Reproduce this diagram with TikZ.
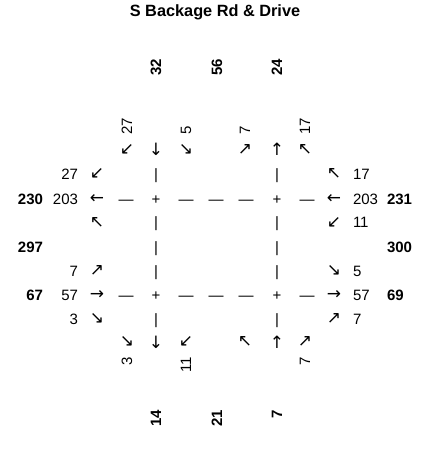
\documentclass[tikz,border=0pt]{standalone}
\usepackage{fontspec}
\setmainfont{Liberation Sans}
\newfontfamily\arrowfont{DejaVu Sans}
\begin{document}
\begin{tikzpicture}[x=1pt,y=-1pt,
  every node/.style={inner sep=0pt,outer sep=0pt,font=\fontsize{15}{15}\selectfont},
  ttl/.style={font=\fontsize{16.3}{16.3}\selectfont\bfseries},
  bnum/.style={font=\fontsize{15}{15}\selectfont\bfseries},
  arr/.style={font=\fontsize{17}{17}\selectfont\arrowfont},
  txt/.style={anchor=base}]
\useasboundingbox (0,0) rectangle (424,449);
\node[ttl] (title) at (215,12) {S Backage Rd \& Drive};
% top totals
\node[bnum,rotate=90,anchor=west] (tT1) at (156,76) {32};
\node[bnum,rotate=90,anchor=west] (tT2) at (217,76) {56};
\node[bnum,rotate=90,anchor=west] (tT3) at (277,76) {24};
% top movement counts
\node[rotate=90,anchor=west] (tc1) at (127,134.5) {27};
\node[rotate=90,anchor=west] (tc2) at (186,134.5) {5};
\node[rotate=90,anchor=west] (tc3) at (245,134.5) {7};
\node[rotate=90,anchor=west] (tc4) at (305,134.5) {17};
% top arrows
\node[arr] (ta1) at (127,150) {↙};
\node[arr] (ta2) at (156,149) {↓};
\node[arr] (ta3) at (186,150) {↘};
\node[arr] (ta4) at (245,150) {↗};
\node[arr] (ta5) at (277,149) {↑};
\node[arr] (ta6) at (305,150) {↖};
% vertical bars
\foreach \yy [count=\i] in {179.4,227.9,252.4,276.4,324.4}{
  \node[txt] (lb\i) at (156,\yy) {|};
  \node[txt] (rb\i) at (277,\yy) {|};
}
% road rows
\foreach \yy/\r in {204.4/a,300.4/b}{
  \node[txt] (d1\r) at (126,\yy) {—};
  \node[txt] (p1\r) at (156,\yy) {+};
  \node[txt] (d2\r) at (186,\yy) {—};
  \node[txt] (d3\r) at (216,\yy) {—};
  \node[txt] (d4\r) at (246,\yy) {—};
  \node[txt] (p2\r) at (277,\yy) {+};
  \node[txt] (d5\r) at (307,\yy) {—};
}
% left arrows
\node[arr] (la1) at (97,174) {↙};
\node[arr] (la2) at (97,199) {←};
\node[arr] (la3) at (97,222.5) {↖};
\node[arr] (la4) at (97,271) {↗};
\node[arr] (la5) at (97,295) {→};
\node[arr] (la6) at (97,319) {↘};
% left counts
\node[anchor=base east] (lc1) at (78,179.4) {27};
\node[anchor=base east] (lc2) at (78,204.4) {203};
\node[anchor=base east] (lc3) at (78,276.4) {7};
\node[anchor=base east] (lc4) at (78,300.4) {57};
\node[anchor=base east] (lc5) at (78,324.4) {3};
\node[bnum,anchor=base east] (lT1) at (43,204.4) {230};
\node[bnum,anchor=base east] (lT2) at (43,252.4) {297};
\node[bnum,anchor=base east] (lT3) at (43,300.4) {67};
% right arrows
\node[arr] (ra1) at (334,174) {↖};
\node[arr] (ra2) at (334,199) {←};
\node[arr] (ra3) at (334,222.5) {↙};
\node[arr] (ra4) at (334,271) {↘};
\node[arr] (ra5) at (334,295) {→};
\node[arr] (ra6) at (334,319) {↗};
% right counts
\node[anchor=base west] (rc1) at (353,179.4) {17};
\node[anchor=base west] (rc2) at (353,204.4) {203};
\node[anchor=base west] (rc3) at (353,227.9) {11};
\node[anchor=base west] (rc4) at (353,276.4) {5};
\node[anchor=base west] (rc5) at (353,300.4) {57};
\node[anchor=base west] (rc6) at (353,324.4) {7};
\node[bnum,anchor=base west] (rT1) at (387,204.4) {231};
\node[bnum,anchor=base west] (rT2) at (387,252.4) {300};
\node[bnum,anchor=base west] (rT3) at (387,300.4) {69};
% bottom arrows
\node[arr] (ba1) at (127,342) {↘};
\node[arr] (ba2) at (156,342) {↓};
\node[arr] (ba3) at (186,342) {↙};
\node[arr] (ba4) at (245,342) {↖};
\node[arr] (ba5) at (277,342) {↑};
\node[arr] (ba6) at (305,342) {↗};
% bottom counts
\node[rotate=90,anchor=east] (bc1) at (127,357) {3};
\node[rotate=90,anchor=east] (bc2) at (186,357) {11};
\node[rotate=90,anchor=east] (bc3) at (305,357) {7};
% bottom totals
\node[bnum,rotate=90,anchor=east] (bT1) at (156,410) {14};
\node[bnum,rotate=90,anchor=east] (bT2) at (217,410) {21};
\node[bnum,rotate=90,anchor=east] (bT3) at (277,410) {7};
\end{tikzpicture}
\end{document}
